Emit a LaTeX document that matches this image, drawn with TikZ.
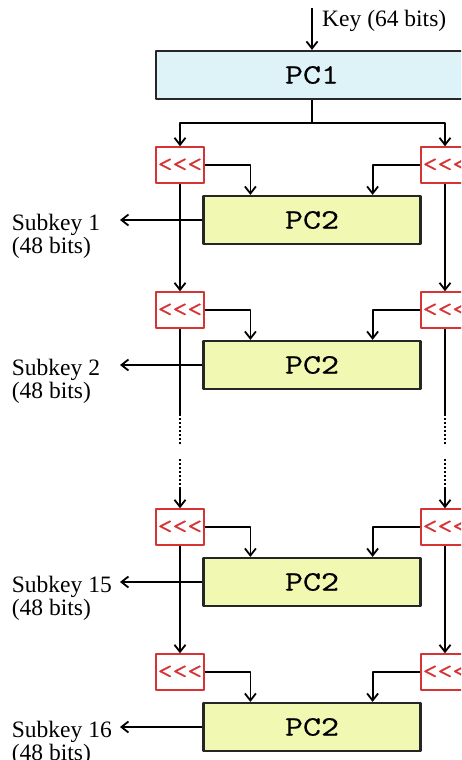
\documentclass[tikz,border=0pt]{standalone}
\usepackage{fontspec}
\setmainfont{Liberation Serif}
\newfontfamily\monofont[FakeStretch=1.25,FakeBold=0.5]{Latin Modern Mono}
\usetikzlibrary{arrows.meta}
\definecolor{pcblue}{RGB}{221,243,248}
\definecolor{pcyellow}{RGB}{240,248,178}
\definecolor{shiftred}{RGB}{214,52,52}
\begin{document}
\begin{tikzpicture}[x=1pt,y=-1pt,>={Straight Barb[length=7pt,width=11pt]}, line width=1.8pt, line join=round,
	font=\fontsize{23.5}{23}\selectfont,
	pcbox/.style={draw=black!85,line width=2.2pt,minimum height=48pt,font=\monofont\fontsize{28}{28}\selectfont},
	shiftbox/.style={draw=shiftred,line width=1.5pt,minimum width=48pt,minimum height=36pt,inner sep=0pt,text=shiftred,font=\monofont\fontsize{23}{23}\selectfont},
	gapline/.style={dash pattern=on 2pt off 2pt}]
	\useasboundingbox (0,0) rectangle (461,760);
	\clip (0,0) rectangle (461,760);
	% key in, PC1
	\node[pcbox,fill=pcblue,minimum width=312pt] (pc1) at (312,75) {PC1};
	\coordinate (keyin) at (312,8);
	\draw[->] (keyin) -- (pc1.north);
	\node[anchor=west] (key) at (318,21) {Key (64 bits)};
	\coordinate (split) at (312,123);
	% rounds
	\foreach \i/\y/\n in {1/165/1,2/310/2,3/527/15,4/672/16}
	{\node[shiftbox] (L\i) at (180,\y) {<{}<{}<};
		\node[shiftbox] (R\i) at (445,\y) {<{}<{}<};
		\node[pcbox,fill=pcyellow,minimum width=217pt] (P\i) at (312,\y+55) {PC2};
		\draw[->] (L\i.east) -| ([xshift=48pt]P\i.north west);
		\draw[->] (R\i.west) -| ([xshift=-49pt]P\i.north east);
		\coordinate (k\i) at (120,\y+55);
		\draw[->] (P\i.west) -- (k\i);
		\node[anchor=north west,align=left,inner sep=0pt] (s\i) at (11,\y+48) {Subkey \n\\(48 bits)};}
	\draw (pc1.south) -- (split);
	\draw[->] (split) -| (L1.north);
	\draw[->] (split) -| (R1.north);
	\foreach \s in {L,R}
	{\draw[->] (\s1.south) -- (\s2.north);
		\draw[->] (\s3.south) -- (\s4.north);
		\draw (\s2.south) -- ++(0,85) coordinate (\s g);
		\draw[gapline] (\s g) -- ++(0,30);
		\draw[gapline] ([yshift=49pt]\s3.north) -- ([yshift=19pt]\s3.north);
		\draw[->] ([yshift=19pt]\s3.north) -- (\s3.north);}
\end{tikzpicture}
\end{document}
